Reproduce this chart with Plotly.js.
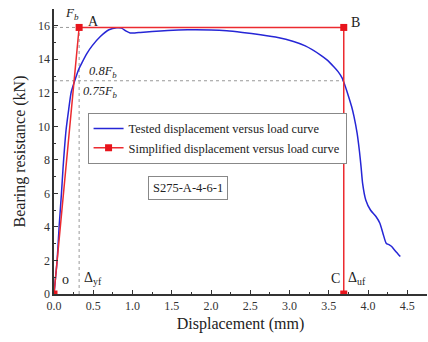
<!DOCTYPE html>
<html>
<head>
<meta charset="utf-8">
<script src="https://cdn.plot.ly/plotly-3.0.1.min.js"></script>
<style>html,body{margin:0;padding:0;background:#fff;}#chart{width:428px;height:342px;}</style>
</head>
<body>
<div id="chart"></div>
<script>
// Tested displacement (mm) vs load (kN)
var testedX = [0, 0.02, 0.04, 0.065, 0.095, 0.115, 0.132, 0.154, 0.187, 0.217, 0.245, 0.27, 0.31, 0.357, 0.42, 0.485, 0.59, 0.70, 0.80, 0.86, 0.92, 0.97, 1.03, 1.1, 1.25, 1.45, 1.7, 2.0, 2.2, 2.4, 2.63, 2.85, 3.05, 3.2, 3.39, 3.48, 3.56, 3.62, 3.67, 3.71, 3.75, 3.79, 3.82, 3.86, 3.89, 3.91, 3.93, 3.97, 4.03, 4.1, 4.15, 4.19, 4.23, 4.27, 4.30, 4.35, 4.41];
var testedY = [0, 1.0, 2.0, 4.0, 6.0, 7.5, 8.6, 9.8, 11.0, 12.0, 12.45, 12.8, 13.35, 13.8, 14.35, 14.8, 15.36, 15.76, 15.88, 15.86, 15.68, 15.57, 15.57, 15.6, 15.66, 15.72, 15.76, 15.75, 15.7, 15.6, 15.46, 15.3, 15.06, 14.8, 14.27, 13.95, 13.57, 13.25, 12.88, 12.38, 11.8, 11.18, 10.59, 9.59, 8.5, 7.6, 6.6, 5.61, 5.01, 4.62, 4.22, 3.6, 3.03, 2.93, 2.83, 2.55, 2.23];
// Simplified curve points O, A, B, C
var simpX = [0, 0.32, 3.69, 3.69];
var simpY = [0, 15.9, 15.9, 0];
var Fb = 15.9;
var ratio08 = 0.8;
var xTicks = [0, 0.5, 1, 1.5, 2, 2.5, 3, 3.5, 4, 4.5];
var xTickText = ['0.0','0.5','1.0','1.5','2.0','2.5','3.0','3.5','4.0','4.5'];
var yTicks = [0, 2, 4, 6, 8, 10, 12, 14, 16];
var legendNames = ['Tested displacement versus load curve', 'Simplified displacement versus load curve'];

var serif = 'Liberation Serif, Times New Roman, serif';
var xA = simpX[1], xB = simpX[2];

var traces = [
  {x: testedX, y: testedY, mode: 'lines', name: legendNames[0],
   line: {color: '#2626d6', width: 1.5, shape: 'spline', smoothing: 0.6}},
  {x: simpX, y: simpY, mode: 'lines+markers', name: legendNames[1],
   line: {color: '#ec2b30', width: 1.5},
   marker: {symbol: 'square', size: 7, color: '#e8141c'}}
];

var dot = {color: '#999', width: 1, dash: 'dot'};
var shapes = [
  {type: 'line', xref: 'x', yref: 'y', x0: 0, x1: xA, y0: Fb, y1: Fb, line: dot, layer: 'below'},
  {type: 'line', xref: 'x', yref: 'y', x0: 0, x1: xB, y0: ratio08 * Fb, y1: ratio08 * Fb, line: dot, layer: 'below'},
  {type: 'line', xref: 'x', yref: 'y', x0: xA, x1: xA, y0: 0, y1: Fb, line: dot, layer: 'below'}
];

function ann(x, y, text, size) {
  return {x: x, y: y, xref: 'x', yref: 'y', text: text, showarrow: false,
          font: {family: serif, size: size || 14, color: '#222'}};
}

var boxAnn = ann(1.71, 6.33, 'S275-A-4-6-1', 12.5);
boxAnn.bordercolor = '#888'; boxAnn.borderwidth = 1; boxAnn.borderpad = 4;

var annotations = [
  ann(0.23, 16.75, '<i>F</i><sub><i>b</i></sub>', 13),
  ann(0.5, 16.25, 'A', 14),
  ann(3.84, 16.2, 'B', 14),
  ann(0.63, 13.25, '<i>0.8F</i><sub><i>b</i></sub>', 12.5),
  ann(0.59, 12.05, '<i>0.75F</i><sub><i>b</i></sub>', 12.5),
  ann(0.145, 0.85, 'o', 14),
  ann(0.5, 0.95, 'Δ<sub>yf</sub>', 14),
  ann(3.58, 0.95, 'C', 14),
  ann(3.86, 0.95, 'Δ<sub>uf</sub>', 14),
  boxAnn
];

var layout = {
  width: 428, height: 342,
  margin: {l: 54, r: 1, t: 9, b: 48},
  paper_bgcolor: '#fff', plot_bgcolor: '#fff',
  showlegend: true,
  legend: {x: 0.09, y: 0.635, xanchor: 'left', yanchor: 'top',
           bordercolor: '#888', borderwidth: 1, bgcolor: '#fff',
           font: {family: serif, size: 12.4, color: '#222'},
           tracegroupgap: 0, itemwidth: 30},
  xaxis: {range: [0, 4.75], tickvals: xTicks, ticktext: xTickText,
          ticks: 'inside', ticklen: 4, tickwidth: 1, tickcolor: '#333',
          minor: {dtick: 0.25, ticks: 'inside', ticklen: 2, tickcolor: '#333'},
          showline: true, linecolor: '#333', linewidth: 1.6,
          showgrid: false, zeroline: false,
          tickfont: {family: serif, size: 12, color: '#333'},
          title: {text: 'Displacement (mm)', font: {family: serif, size: 16, color: '#222'}, standoff: 6}},
  yaxis: {range: [0, 17], tickvals: yTicks,
          ticks: 'inside', ticklen: 4, tickwidth: 1, tickcolor: '#333',
          minor: {dtick: 1, ticks: 'inside', ticklen: 2, tickcolor: '#333'},
          showline: true, linecolor: '#333', linewidth: 1.6,
          showgrid: false, zeroline: false,
          tickfont: {family: serif, size: 12, color: '#333'},
          title: {text: 'Bearing resistance (kN)', font: {family: serif, size: 16, color: '#222'}, standoff: 8}},
  shapes: shapes,
  annotations: annotations
};

Plotly.newPlot('chart', traces, layout, {displayModeBar: false, staticPlot: true});
</script>
</body>
</html>
